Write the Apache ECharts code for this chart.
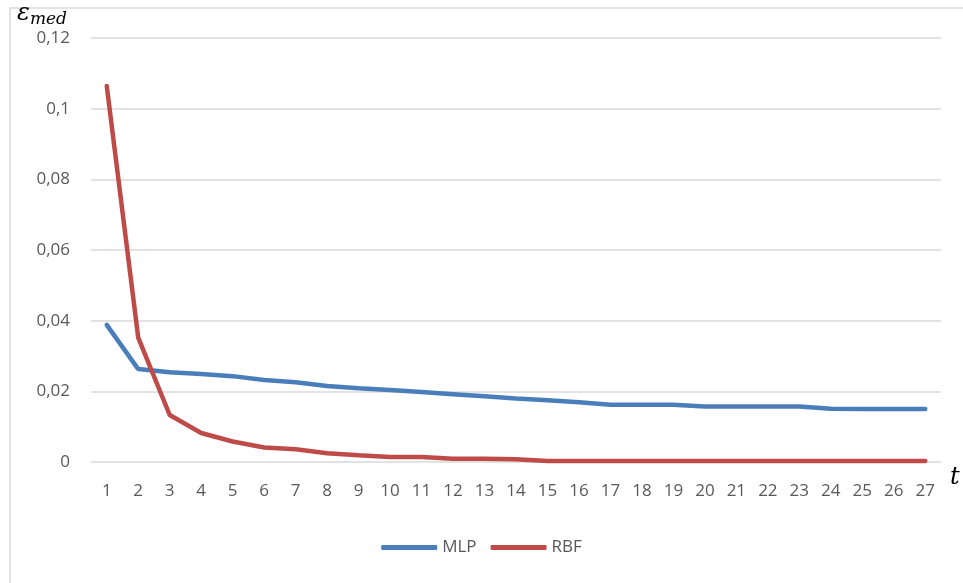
<!DOCTYPE html>
<html><head><meta charset="utf-8">
<script src="https://cdn.jsdelivr.net/npm/echarts@6/dist/echarts.min.js"></script>
<style>html,body{margin:0;padding:0;background:#fff}#c{width:963px;height:583px}</style>
</head><body><div id="c"></div>
<script>
const categories = ['1','2','3','4','5','6','7','8','9','10','11','12','13','14','15','16','17','18','19','20','21','22','23','24','25','26','27'];
const mlp = [0.0388,0.0263,0.0254,0.0249,0.0243,0.0232,0.0226,0.0215,0.0209,0.0204,0.0198,0.0192,0.0186,0.0180,0.0175,0.0169,0.0162,0.0162,0.0162,0.0157,0.0157,0.0157,0.0157,0.0151,0.0150,0.0150,0.0150];
const rbf = [0.1064,0.0352,0.0133,0.0082,0.0058,0.0041,0.0036,0.0025,0.0019,0.0014,0.0014,0.0009,0.0009,0.0008,0.0003,0.0003,0.0003,0.0003,0.0003,0.0003,0.0003,0.0003,0.0003,0.0003,0.0003,0.0003,0.0003];
const yTicks = {min:0, max:0.12, interval:0.02};

const chart = echarts.init(document.getElementById('c'));
chart.setOption({
  animation:false,
  textStyle:{fontFamily:'Open Sans, Liberation Sans, sans-serif'},
  grid:{left:91, right:22, top:38, bottom:121, containLabel:false},
  legend:{
    bottom:22, left:'center', itemWidth:56, itemHeight:5, itemGap:14,
    textStyle:{color:'#595959', fontSize:17},
    icon:'roundRect',
    data:['MLP','RBF']
  },
  xAxis:{
    type:'category', data:categories, boundaryGap:true,
    axisLine:{show:false}, axisTick:{show:false},
    axisLabel:{color:'#595959', fontSize:17, margin:21}
  },
  yAxis:{
    type:'value', min:yTicks.min, max:yTicks.max, interval:yTicks.interval,
    axisLine:{show:false}, axisTick:{show:false},
    splitLine:{lineStyle:{color:'#d9d9d9', width:1.5}},
    axisLabel:{color:'#595959', fontSize:17, margin:21,
      formatter:v=>String(+v.toFixed(2)).replace('.',',')}
  },
  series:[
    {name:'MLP', type:'line', data:mlp, symbol:'none', smooth:false,
      lineStyle:{color:'#4A7EBB', width:4.5, cap:'round'}, itemStyle:{color:'#4A7EBB'}},
    {name:'RBF', type:'line', data:rbf, symbol:'none', smooth:false,
      lineStyle:{color:'#BE4B48', width:4.5, cap:'round'}, itemStyle:{color:'#BE4B48'}}
  ],
  graphic:[
    {type:'rect', shape:{x:10, y:8, width:970, height:600}, style:{fill:'none', stroke:'#d9d9d9', lineWidth:1.5}, silent:true},
    {type:'text', left:17, top:2, style:{
      text:'{e|ε}{s|med}', rich:{
        e:{fontFamily:'DejaVu Serif, serif', fontStyle:'italic', fontSize:24, fill:'#000'},
        s:{fontFamily:'DejaVu Serif, serif', fontStyle:'italic', fontSize:17, fill:'#000', padding:[12,0,0,0]}
      }}},
    {type:'text', left:950, top:466, style:{text:'t', fontFamily:'DejaVu Serif, serif', fontStyle:'italic', fontSize:24, fill:'#000'}}
  ]
});
</script>
</body></html>
